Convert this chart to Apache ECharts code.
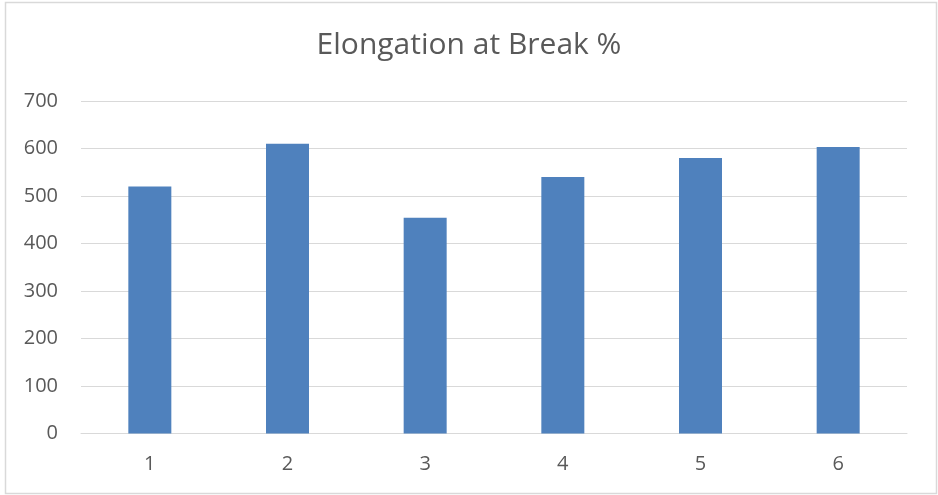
<!DOCTYPE html>
<html>
<head>
<meta charset="utf-8">
<script src="https://cdn.jsdelivr.net/npm/echarts@6/dist/echarts.min.js"></script>
<style>
  html, body { margin: 0; padding: 0; background: #fff; }
  #chart { width: 938px; height: 495px; }
</style>
</head>
<body>
<div id="chart"></div>
<script>
const categories = ['1', '2', '3', '4', '5', '6'];
const elongation = [520, 610, 454, 540, 580, 603];
const yTicks = { min: 0, max: 700, interval: 100 };

const chart = echarts.init(document.getElementById('chart'), null, { renderer: 'canvas' });
chart.setOption({
  animation: false,
  backgroundColor: '#ffffff',
  title: {
    text: 'Elongation at Break %',
    left: 'center',
    top: 25,
    textStyle: { fontFamily: 'Open Sans', fontWeight: 'normal', fontSize: 30, color: '#595959' }
  },
  graphic: [{
    type: 'rect',
    shape: { x: 5.5, y: 2.5, width: 931, height: 491 },
    style: { fill: 'none', stroke: '#d9d9d9', lineWidth: 1.5 },
    silent: true
  }],
  grid: { left: 81, right: 31, top: 101, bottom: 61.5, containLabel: false },
  xAxis: {
    type: 'category',
    data: categories,
    axisTick: { show: false },
    axisLine: { lineStyle: { color: '#d9d9d9', width: 1 } },
    axisLabel: { color: '#595959', fontFamily: 'Open Sans', fontSize: 20, margin: 21 }
  },
  yAxis: {
    type: 'value',
    min: yTicks.min,
    max: yTicks.max,
    interval: yTicks.interval,
    axisLine: { show: false },
    axisTick: { show: false },
    splitLine: { lineStyle: { color: '#d9d9d9', width: 1 } },
    axisLabel: { color: '#595959', fontFamily: 'Open Sans', fontSize: 20, margin: 23 }
  },
  series: [{
    type: 'bar',
    data: elongation,
    barWidth: 43,
    itemStyle: { color: '#4f81bd' }
  }]
});
</script>
</body>
</html>
